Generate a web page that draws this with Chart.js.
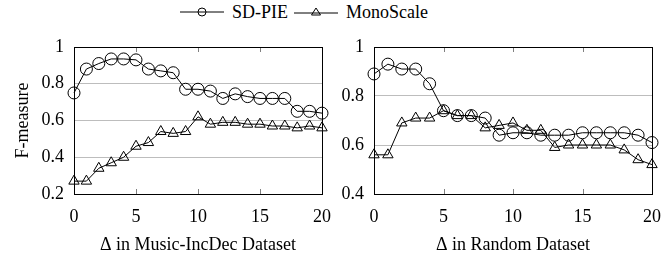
<!DOCTYPE html>
<html>
<head>
<meta charset="utf-8">
<script src="https://cdn.jsdelivr.net/npm/chart.js@4.4.1/dist/chart.umd.min.js"></script>
<style>
  body { margin: 0; background: #fff; width: 665px; height: 256px; position: relative; overflow: hidden; font-family: "Liberation Serif", serif; }
  #chart1 { position: absolute; left: 0; top: 0; }
  #chart2 { position: absolute; left: 335px; top: 0; }
  #legend { position: absolute; top: 1px; left: 180px; height: 22px; display: flex; align-items: center; font-size: 18px; color: #000; white-space: nowrap; }
  #legend svg { display: block; }
  #legend span { margin: 0 6px 0 8px; }
</style>
</head>
<body>
<div id="legend">
  <svg width="44" height="14"><line x1="0" y1="7" x2="44" y2="7" stroke="#000" stroke-width="1"/><circle cx="22" cy="7" r="4" fill="none" stroke="#000" stroke-width="1"/></svg>
  <span>SD-PIE</span>
  <svg width="44" height="14"><line x1="0" y1="8" x2="44" y2="8" stroke="#000" stroke-width="1"/><polygon points="22,3 26.5,10 17.5,10" fill="none" stroke="#000" stroke-width="1"/></svg>
  <span>MonoScale</span>
</div>
<canvas id="chart1" width="335" height="256"></canvas>
<canvas id="chart2" width="330" height="256"></canvas>
<script>
// valores de Δ (eixo x)
const deltas = [0, 1, 2, 3, 4, 5, 6, 7, 8, 9, 10, 11, 12, 13, 14, 15, 16, 17, 18, 19, 20];
const xTicks = [0, 5, 10, 15, 20];

// Music-IncDec
const musicSdPie = [0.75, 0.88, 0.91, 0.935, 0.935, 0.93, 0.88, 0.87, 0.86, 0.77, 0.77, 0.76, 0.72, 0.745, 0.73, 0.72, 0.72, 0.72, 0.65, 0.65, 0.64];
const musicMono = [0.27, 0.27, 0.34, 0.37, 0.40, 0.46, 0.48, 0.54, 0.53, 0.54, 0.62, 0.58, 0.59, 0.59, 0.58, 0.58, 0.57, 0.57, 0.56, 0.57, 0.56];
const musicYTicks = [0.2, 0.4, 0.6, 0.8, 1];

// Random
const randomSdPie = [0.89, 0.93, 0.91, 0.91, 0.85, 0.74, 0.72, 0.72, 0.71, 0.64, 0.65, 0.65, 0.64, 0.64, 0.64, 0.65, 0.65, 0.65, 0.65, 0.64, 0.61];
const randomMono = [0.56, 0.56, 0.69, 0.71, 0.71, 0.74, 0.72, 0.72, 0.67, 0.68, 0.69, 0.66, 0.66, 0.59, 0.60, 0.60, 0.60, 0.60, 0.58, 0.54, 0.52];
const randomYTicks = [0.4, 0.6, 0.8, 1];

const fontFamily = 'Liberation Serif';
Chart.defaults.font.family = fontFamily;
Chart.defaults.font.size = 18;
Chart.defaults.color = '#000';

// moldura do gráfico + marcas internas no eixo x
const framePlugin = {
  id: 'frame',
  afterDatasetsDraw(chart) {
    const { ctx, chartArea: a, scales } = chart;
    ctx.save();
    ctx.strokeStyle = '#808080';
    ctx.lineWidth = 1;
    scales.x.ticks.forEach(t => {
      if (t.value === scales.x.min || t.value === scales.x.max) return;
      const px = Math.round(scales.x.getPixelForValue(t.value)) + 0.5;
      ctx.beginPath();
      ctx.moveTo(px, a.bottom); ctx.lineTo(px, a.bottom - 5);
      ctx.moveTo(px, a.top); ctx.lineTo(px, a.top + 5);
      ctx.stroke();
    });
    ctx.strokeStyle = '#000';
    ctx.strokeRect(Math.round(a.left) + 0.5, Math.round(a.top) + 0.5, Math.round(a.right - a.left), Math.round(a.bottom - a.top));
    ctx.restore();
  }
};

function makeChart(id, xTitle, sdPie, mono, yTicks, yAxisWidth, showYTitle) {
  const ctx = document.getElementById(id).getContext('2d');
  return new Chart(ctx, {
    type: 'line',
    data: {
      datasets: [{
        label: 'SD-PIE',
        data: deltas.map((d, i) => ({ x: d, y: sdPie[i] })),
        borderColor: '#000',
        borderWidth: 1,
        pointStyle: 'circle',
        pointRadius: 6,
        pointBorderWidth: 1,
        pointBorderColor: '#000',
        pointBackgroundColor: 'rgba(0,0,0,0)',
        tension: 0
      }, {
        label: 'MonoScale',
        data: deltas.map((d, i) => ({ x: d, y: mono[i] })),
        borderColor: '#000',
        borderWidth: 1,
        pointStyle: 'triangle',
        pointRadius: 6,
        pointBorderWidth: 1,
        pointBorderColor: '#000',
        pointBackgroundColor: 'rgba(0,0,0,0)',
        tension: 0
      }]
    },
    options: {
      responsive: false,
      animation: false,
      clip: false,
      layout: { padding: { top: 47, right: 10, left: 0, bottom: 0 } },
      plugins: { legend: { display: false }, tooltip: { enabled: false } },
      scales: {
        x: {
          type: 'linear',
          min: 0,
          max: 20,
          afterBuildTicks: s => { s.ticks = xTicks.map(v => ({ value: v })); },
          afterFit: s => { s.height = 62; },
          grid: { display: false },
          border: { display: false },
          ticks: { color: '#000', font: { family: fontFamily, size: 18 }, padding: 4, maxRotation: 0, callback: v => String(v) },
          title: { display: true, text: xTitle, color: '#000', font: { family: fontFamily, size: 18 }, padding: { top: 6, bottom: 0 } }
        },
        y: {
          min: yTicks[0],
          max: yTicks[yTicks.length - 1],
          afterBuildTicks: s => { s.ticks = yTicks.map(v => ({ value: v })); },
          afterFit: s => { s.width = yAxisWidth; },
          grid: { color: '#bdbdbd', lineWidth: 1, drawTicks: false },
          border: { display: false },
          ticks: { color: '#000', font: { family: fontFamily, size: 18 }, padding: 10, callback: v => String(Math.round(v * 10) / 10) },
          title: { display: showYTitle, text: 'F-measure', color: '#000', font: { family: fontFamily, size: 18 }, padding: { top: 12, bottom: 0 } }
        }
      }
    },
    plugins: [framePlugin]
  });
}

makeChart('chart1', 'Δ in Music-IncDec Dataset', musicSdPie, musicMono, musicYTicks, 74, true);
makeChart('chart2', 'Δ in Random Dataset', randomSdPie, randomMono, randomYTicks, 39, false);
</script>
</body>
</html>
